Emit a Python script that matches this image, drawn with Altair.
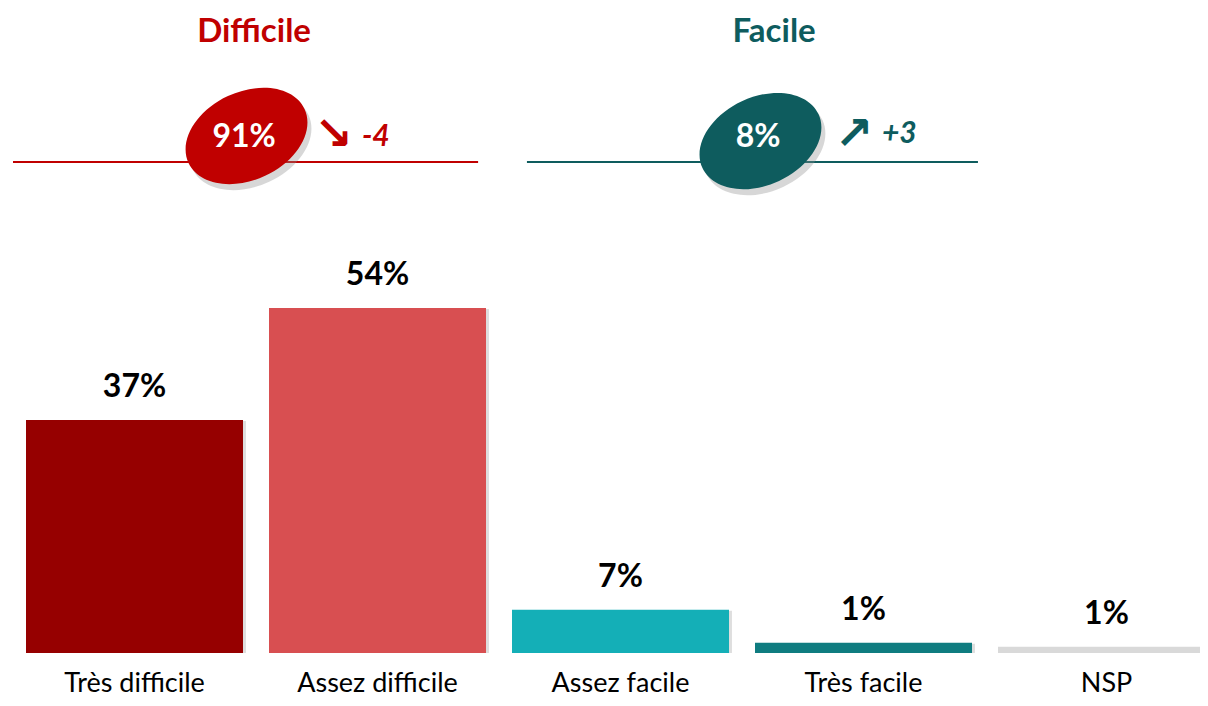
import altair as alt
import pandas as pd

# ---- data ----
categories = ["Très difficile", "Assez difficile", "Assez facile", "Très facile", "NSP"]
values = [36.6, 54.2, 6.8, 1.6, 1.0]
value_labels = ["37%", "54%", "7%", "1%", "1%"]
bar_colors = ["#960000", "#D84F51", "#14AFB7", "#0F7C80", "#D9D9D9"]

groups = ["Difficile", "Facile"]
group_totals = ["91%", "8%"]
group_changes = ["-4", "+3"]
group_trends = ["↘", "↗"]
group_colors = ["#C00000", "#0E5C5E"]

# ---- layout (x in category-slot units, y in value units) ----
head_x = [0.992, 3.132]
head_y = 95.9
line_x = [0.0, 2.115]
line_x2 = [1.914, 3.971]
line_y = 77.1
ell_x = [0.961, 3.076]
ell_y = [81.2, 80.4]
tot_x = [0.951, 3.066]
tot_y = 79.4
arr_x = [1.319, 3.461]
arr_y = 81.3
chg_x = [1.436, 3.576]
chg_y = [79.7, 80.1]

FONT = "Lato"
RANGE = [5, 1220]

bars_df = pd.DataFrame({
    "category": categories,
    "value": values,
    "label": value_labels,
    "color": bar_colors,
})

grp_df = pd.DataFrame({
    "group": groups,
    "total": group_totals,
    "change": group_changes,
    "trend": group_trends,
    "color": group_colors,
    "hx": head_x,
    "hy": [head_y] * 2,
    "lx": line_x,
    "lx2": line_x2,
    "ly": [line_y] * 2,
    "ex": ell_x,
    "ey": ell_y,
    "tx": tot_x,
    "ty": [tot_y] * 2,
    "ax": arr_x,
    "ay": [arr_y] * 2,
    "cx": chg_x,
    "cy": chg_y,
})

yscale = alt.Scale(domain=[0, 101.3], nice=False, zero=True)

xb = alt.X(
    "category:N",
    sort=categories,
    scale=alt.Scale(domain=categories, range=RANGE, paddingInner=0.107, paddingOuter=0.0535),
    axis=alt.Axis(title=None, domain=False, ticks=False, labelFontSize=27, labelFont=FONT,
                  labelColor="black", labelPadding=38, labelBaseline="alphabetic",
                  labelAngle=0, grid=False),
)
yb = alt.Y("value:Q", scale=yscale, axis=None)

base = alt.Chart(bars_df)
shadow = base.mark_bar(clip=True, color="#000000", opacity=0.13, xOffset=3, yOffset=1).encode(x=xb, y=yb)
bars = base.mark_bar(clip=True).encode(x=xb, y=yb, color=alt.Color("color:N", scale=None))
labels = base.mark_text(dy=-33, baseline="middle", font=FONT, fontSize=32, fontWeight="bold",
                        color="black").encode(x=xb, y=yb, text="label:N")

bar_layer = alt.layer(shadow, bars, labels)

def qx(field):
    return alt.X(field + ":Q", scale=alt.Scale(domain=[0, 5], range=RANGE, nice=False, zero=False), axis=None)

def qy(field):
    return alt.Y(field + ":Q", scale=yscale, axis=None)

gcol = alt.Color("color:N", scale=None)

b = 0.6875
k = 0.5523
ELLIPSE = (
    f"M-1,0 C-1,{-k*b:.4f} {-k:.4f},{-b} 0,{-b} "
    f"C{k:.4f},{-b} 1,{-k*b:.4f} 1,0 "
    f"C1,{k*b:.4f} {k:.4f},{b} 0,{b} "
    f"C{-k:.4f},{b} -1,{k*b:.4f} -1,0 Z"
)

g = alt.Chart(grp_df)
heads = g.mark_text(font=FONT, fontSize=33, fontWeight="bold", baseline="alphabetic").encode(
    x=qx("hx"), y=qy("hy"), text="group:N", color=gcol)
rules = g.mark_rule(strokeWidth=2).encode(x=qx("lx"), x2="lx2:Q", y=qy("ly"), color=gcol)
ell_shadow = g.mark_point(shape=ELLIPSE, filled=True, size=16384, angle=335, opacity=0.35,
                          color="#8c8c8c", xOffset=4, yOffset=6).encode(x=qx("ex"), y=qy("ey"))
ells = g.mark_point(shape=ELLIPSE, filled=True, size=16384, angle=335, opacity=1).encode(
    x=qx("ex"), y=qy("ey"), color=gcol)
totals = g.mark_text(font=FONT, fontSize=32, fontWeight="bold", baseline="alphabetic", color="white").encode(
    x=qx("tx"), y=qy("ty"), text="total:N")
arrows = g.mark_text(font="DejaVu Sans", fontSize=46, fontWeight="bold", baseline="middle").encode(
    x=qx("ax"), y=qy("ay"), text="trend:N", color=gcol)
changes = g.mark_text(font=FONT, fontSize=30, fontWeight="bold", fontStyle="italic", align="left",
                      baseline="alphabetic").encode(x=qx("cx"), y=qy("cy"), text="change:N", color=gcol)

over = alt.layer(heads, rules, ell_shadow, ells, totals, arrows, changes)

chart = alt.layer(bar_layer, over).resolve_scale(x="independent").properties(
    width=1192,
    height=645,
    autosize=alt.AutoSizeParams(type="none"),
    padding={"left": 0, "top": 0, "right": 0, "bottom": 45},
    background="white",
).configure_view(stroke=None)

chart.save("out.html", embed_options={"renderer": "svg", "actions": False})
